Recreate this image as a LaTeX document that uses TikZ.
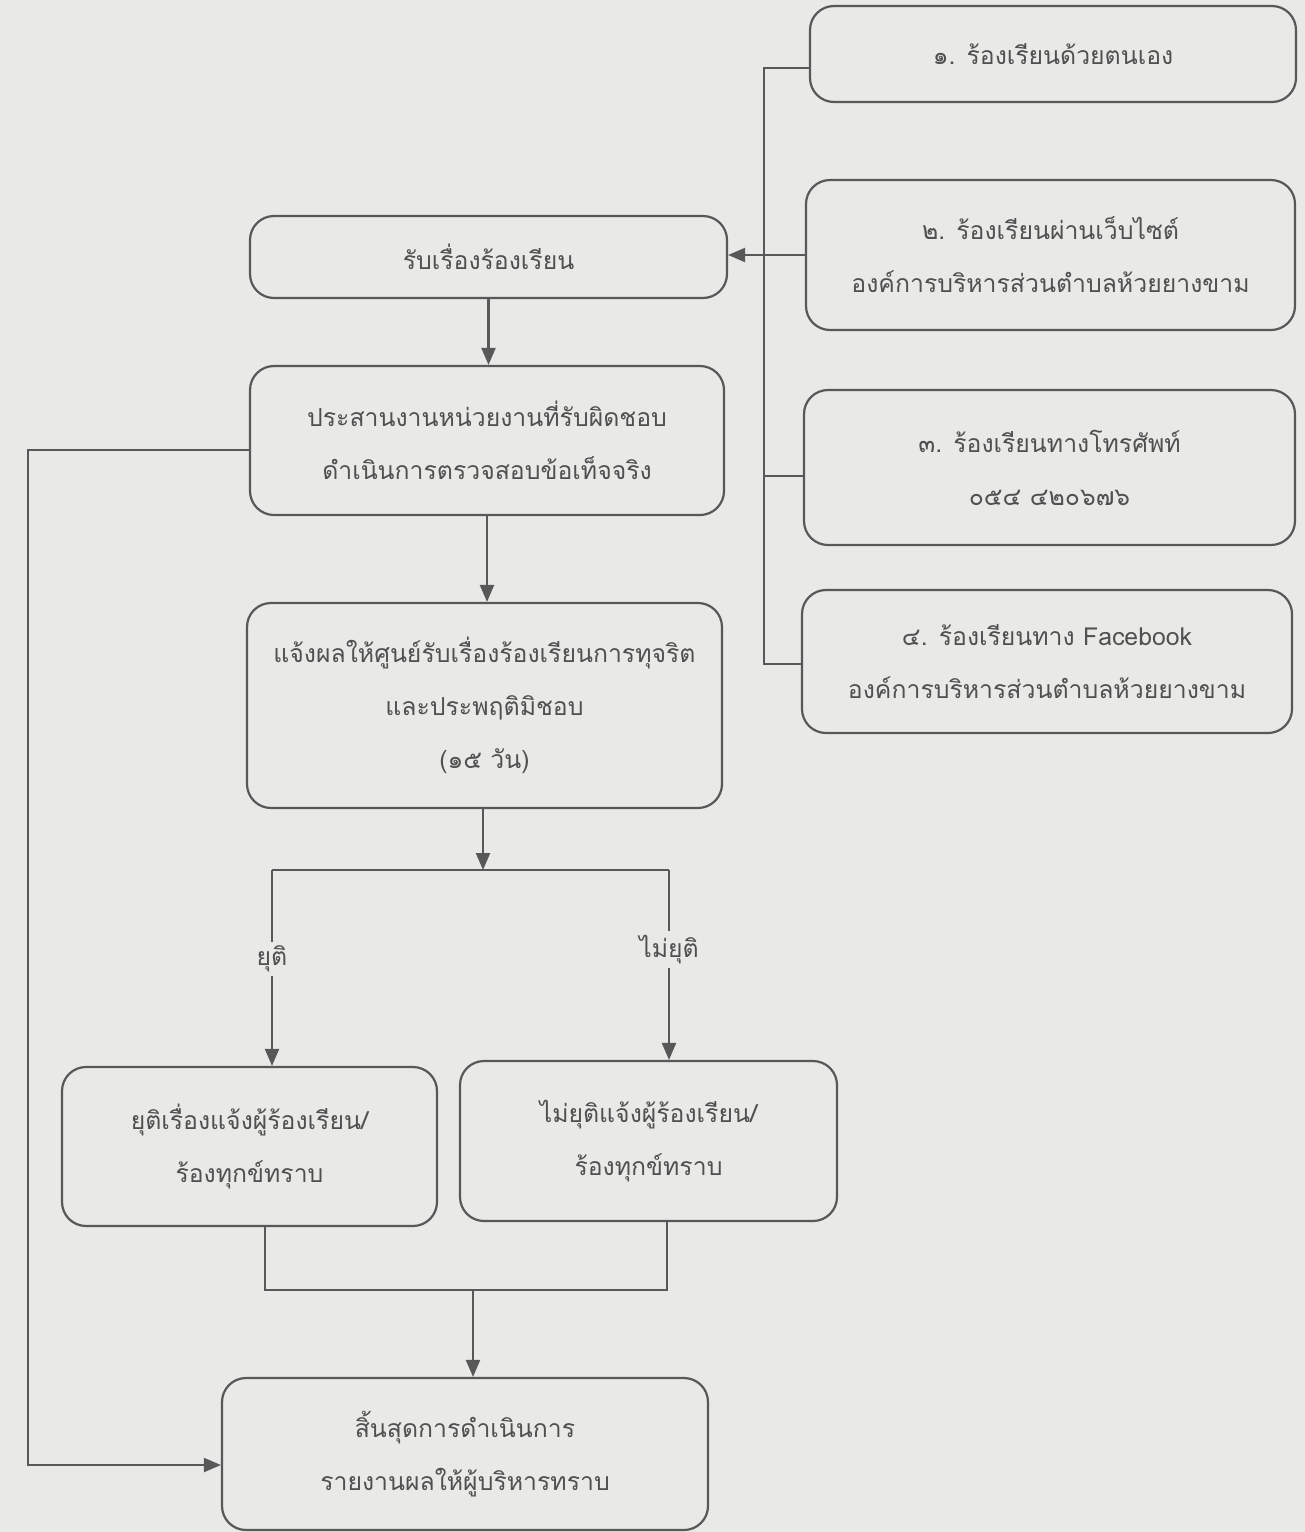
\documentclass[tikz,border=0pt]{standalone}
\usepackage{fontspec}
\newfontfamily\thai[Script=Thai]{Loma}
\usetikzlibrary{arrows.meta}
\definecolor{bg}{RGB}{233,233,231}
\definecolor{ln}{RGB}{88,88,88}
\definecolor{tx}{RGB}{80,80,80}
\tikzset{
  box/.style={draw=ln, line width=1.1pt, rounded corners=12pt, align=center,
    inner sep=0pt, text=tx, font=\thai\fontsize{12.4}{26.5}\selectfont},
  conn/.style={draw=ln, line width=1.1pt},
  arr/.style={conn, -{Triangle[length=8.5pt,width=7pt]}},
  lbl/.style={fill=bg, text=tx, inner sep=2pt, font=\thai\fontsize{12.4}{16}\selectfont}
}
\begin{document}
\begin{tikzpicture}[x=0.5pt,y=-0.5pt]
\path[use as bounding box, fill=bg] (0,0) rectangle (1305,1532);
% right column
\node[box, minimum width=243pt, minimum height=48pt] (r1) at (1053,54) {๑. ร้องเรียนด้วยตนเอง};
\node[box, minimum width=244.5pt, minimum height=75pt] (r2) at (1050.5,255) {๒. ร้องเรียนผ่านเว็บไซต์\\องค์การบริหารส่วนตำบลห้วยยางขาม};
\node[box, minimum width=245.5pt, minimum height=77.5pt] (r3) at (1049.5,467.5) {๓. ร้องเรียนทางโทรศัพท์\\๐๕๔ ๔๒๐๖๗๖};
\node[box, minimum width=245pt, minimum height=71.5pt] (r4) at (1047,661.5) {๔. ร้องเรียนทาง Facebook\\องค์การบริหารส่วนตำบลห้วยยางขาม};
% main column
\node[box, minimum width=238.5pt, minimum height=41pt] (recv) at (488.5,257) {รับเรื่องร้องเรียน};
\node[box, minimum width=237pt, minimum height=74.5pt] (coord) at (487,440.5) {ประสานงานหน่วยงานที่รับผิดชอบ\\ดำเนินการตรวจสอบข้อเท็จจริง};
\node[box, minimum width=237.5pt, minimum height=102.5pt] (notify) at (484.5,705.5) {แจ้งผลให้ศูนย์รับเรื่องร้องเรียนการทุจริต\\และประพฤติมิชอบ\\(๑๕ วัน)};
\node[box, minimum width=187.5pt, minimum height=79.5pt] (yuti) at (249.5,1146.5) {ยุติเรื่องแจ้งผู้ร้องเรียน/\\ร้องทุกข์ทราบ};
\node[box, minimum width=188.5pt, minimum height=80pt] (mai) at (648.5,1141) {ไม่ยุติแจ้งผู้ร้องเรียน/\\ร้องทุกข์ทราบ};
\node[box, minimum width=243pt, minimum height=76pt] (endb) at (465,1454) {สิ้นสุดการดำเนินการ\\รายงานผลให้ผู้บริหารทราบ};
% bus on the right
\coordinate (b1) at (764,68);
\coordinate (b3) at (764,476);
\coordinate (b4) at (764,664);
\draw[conn] (r1.west |- b1) -- (b1) -- (b4) -- (r4.west |- b4);
\draw[conn] (b3) -- (r3.west |- b3);
\draw[arr] (r2.west) -- (r2.west -| recv.east);
% main flow
\draw[arr] (recv.south) -- (recv.south |- coord.north);
\draw[arr] (coord.south) -- (coord.south |- notify.north);
\coordinate (split) at (483,870);
\coordinate (sl) at (272,870);
\coordinate (sr) at (669,870);
\draw[arr] (notify.south -| split) -- (split);
\draw[conn] (sl) -- (sr);
\draw[arr] (sl) -- node[lbl, pos=0.455] (ly) {ยุติ} (sl |- yuti.north);
\draw[arr] (sr) -- node[lbl, pos=0.42] (lm) {ไม่ยุติ} (sr |- mai.north);
% merge
\coordinate (ml) at (265,1290);
\coordinate (mr) at (667,1290);
\coordinate (mm) at (473,1290);
\draw[conn] (yuti.south -| ml) -- (ml) -- (mr) -- (mai.south -| mr);
\draw[arr] (mm) -- (mm |- endb.north);
% feedback
\coordinate (fa) at (250,450);
\coordinate (fb) at (28,450);
\coordinate (fc) at (28,1465);
\draw[arr] (coord.west |- fa) -- (fb) -- (fc) -- (fc -| endb.west);
\end{tikzpicture}
\end{document}
